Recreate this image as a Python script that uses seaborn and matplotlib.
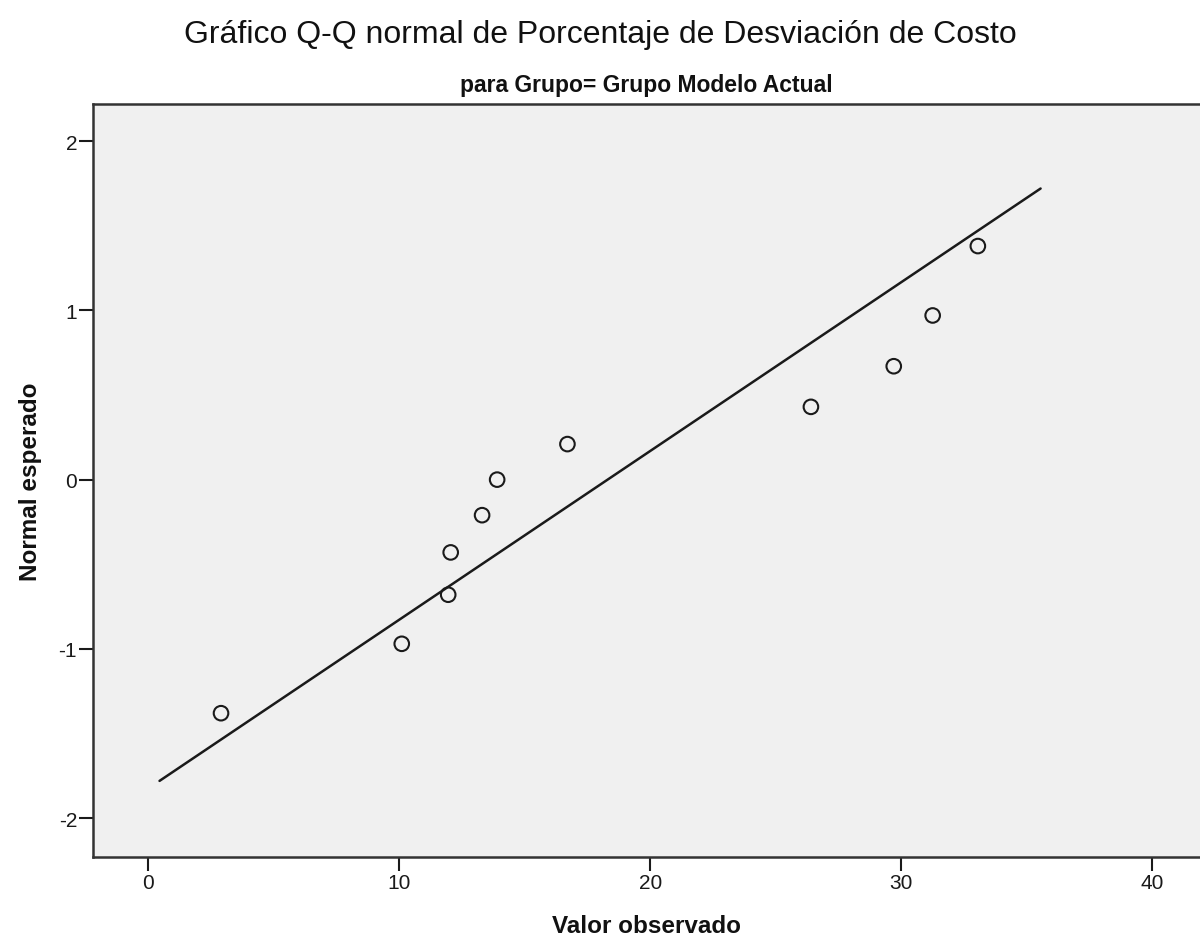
import matplotlib
matplotlib.use('Agg')
import matplotlib.pyplot as plt
import seaborn as sns
import pandas as pd

observado = [2.9, 10.1, 11.95, 12.05, 13.3, 13.9, 16.7, 26.4, 29.7, 31.25, 33.05]
esperado = [-1.38, -0.97, -0.68, -0.43, -0.21, 0.0, 0.21, 0.43, 0.67, 0.97, 1.38]

# reference line endpoints
linea_x = [0.45, 35.55]
linea_y = [-1.78, 1.72]

xticks = [0, 10, 20, 30, 40]
yticks = [-2, -1, 0, 1, 2]

df = pd.DataFrame({'obs': observado, 'esp': esperado})

sns.set_style('ticks')
plt.rcParams['font.family'] = ['Liberation Sans', 'DejaVu Sans']
plt.rcParams['axes.unicode_minus'] = False

fig = plt.figure(figsize=(12, 9.45), dpi=100)
ax = fig.add_axes([0.0775, 0.092, 0.9225, 0.797])
ax.set_facecolor('#f0f0f0')

sns.lineplot(x=linea_x, y=linea_y, color='#1a1a1a', linewidth=1.8, ax=ax)
sns.scatterplot(data=df, x='obs', y='esp', ax=ax, s=110, marker='o',
                facecolor='none', edgecolor='#1a1a1a', linewidth=1.5, zorder=3)

ax.set_xlim(-2.2, 41.9)
ax.set_ylim(-2.23, 2.22)
ax.set_xticks(xticks)
ax.set_yticks(yticks)
ax.tick_params(labelsize=15, length=10, width=1.5, pad=1.5, color='#1a1a1a',
               labelcolor='#1a1a1a')
for s in ['left', 'bottom', 'top']:
    ax.spines[s].set_linewidth(1.8)
    ax.spines[s].set_color('#333333')
ax.spines['right'].set_visible(False)

ax.set_xlabel('Valor observado', fontsize=17.5, fontweight='bold', labelpad=16,
              color='#111111')
ax.set_ylabel('Normal esperado', fontsize=17.5, fontweight='bold', labelpad=12,
              color='#111111')

fig.text(0.5, 0.963, 'Gráfico Q-Q normal de Porcentaje de Desviación de Costo',
         ha='center', va='center', fontsize=23, color='#111111')
ax.set_title('para Grupo= Grupo Modelo Actual', fontsize=16.5, fontweight='bold',
             pad=9, color='#111111')

fig.savefig('out.png', dpi=100)
